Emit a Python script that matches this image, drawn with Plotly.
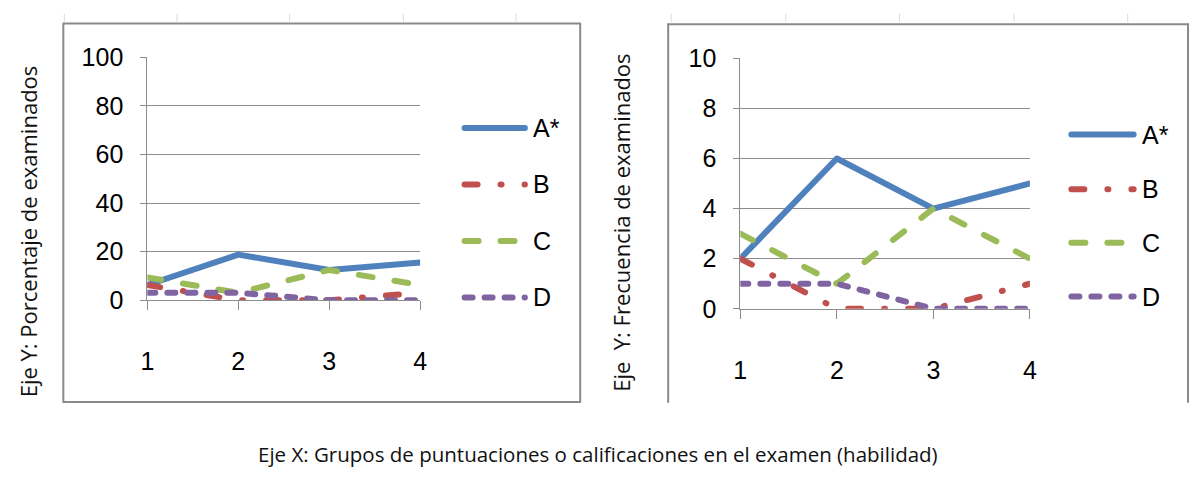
import plotly.graph_objects as go

# Score groups on the horizontal axis
groups = [1, 2, 3, 4]
group_labels = ["1", "2", "3", "4"]
options = ["A*", "B", "C", "D"]

# Left panel: percentage of examinees choosing each option
pct_a = [6.3, 18.8, 12.5, 15.6]
pct_b = [6.3, 0, 0, 3.1]
pct_c = [9.4, 3.1, 12.5, 6.3]
pct_d = [3.1, 3.1, 0, 0]

# Right panel: number of examinees choosing each option
freq_a = [2, 6, 4, 5]
freq_b = [2, 0, 0, 1]
freq_c = [3, 1, 4, 2]
freq_d = [1, 1, 0, 0]

pct_ticks = [0, 20, 40, 60, 80, 100]
freq_ticks = [0, 2, 4, 6, 8, 10]

W, H = 1196, 481


def px(xp):
    return xp / W


def py(yp):
    return 1 - yp / H


colors = ["#4F81BD", "#C0504D", "#9BBB59", "#8064A2"]
dashes = ["solid", "13px,23px,1px,23px", "14px,22px", "8px,12px"]
LW = 6
GRID = "#8c8c8c"
NARROW = "Liberation Sans Narrow, Liberation Sans, Arial, sans-serif"
TEXT = "Open Sans, sans-serif"

fig = go.Figure()

pct_series = [pct_a, pct_b, pct_c, pct_d]
freq_series = [freq_a, freq_b, freq_c, freq_d]

for name, vals, col, dsh in zip(options, pct_series, colors, dashes):
    fig.add_trace(go.Scatter(x=groups, y=vals, mode="lines", name=name,
                             line=dict(color=col, width=LW, dash=dsh),
                             showlegend=False, hoverinfo="skip",
                             xaxis="x", yaxis="y"))
for name, vals, col, dsh in zip(options, freq_series, colors, dashes):
    fig.add_trace(go.Scatter(x=groups, y=vals, mode="lines", name=name,
                             line=dict(color=col, width=LW, dash=dsh),
                             showlegend=False, hoverinfo="skip",
                             xaxis="x2", yaxis="y2"))

common_x = dict(range=[1, 4], tickvals=groups, ticktext=group_labels,
                ticks="outside", ticklen=9, tickcolor=GRID, tickwidth=1,
                showline=True, linecolor=GRID, linewidth=1, showgrid=False,
                zeroline=False, ticklabelstandoff=30,
                tickfont=dict(family=NARROW, size=25, color="#000"))
common_y = dict(showgrid=True, gridcolor=GRID, gridwidth=1,
                showline=True, linecolor=GRID, linewidth=1,
                ticks="outside", ticklen=6, tickcolor=GRID, tickwidth=1,
                zeroline=False, ticklabelstandoff=12,
                tickfont=dict(family=NARROW, size=25, color="#000"))

fig.update_layout(
    width=W, height=H,
    margin=dict(l=0, r=0, t=0, b=0),
    paper_bgcolor="white", plot_bgcolor="rgba(0,0,0,0)",
    showlegend=False,
    xaxis=dict(domain=[px(142), px(418)], anchor="y", **common_x),
    yaxis=dict(domain=[py(304), py(46)], anchor="x", range=[0, 100],
               tickvals=pct_ticks, **common_y),
    xaxis2=dict(domain=[px(742), px(1035)], anchor="y2", **common_x),
    yaxis2=dict(domain=[py(313), py(47)], anchor="x2", range=[0, 10],
                tickvals=freq_ticks, **common_y),
)

shapes = []
FRAME = "#8a8a8a"
# Left chart frame (full box)
shapes.append(dict(type="rect", xref="paper", yref="paper",
                   x0=px(57), x1=px(580), y0=py(412), y1=py(10),
                   line=dict(color=FRAME, width=2), fillcolor="rgba(0,0,0,0)"))
# Right chart frame (left, top and right edges)
for (xa, ya, xb, yb) in [(669, 412, 669, 11), (669, 11, 1195, 11), (1195, 11, 1195, 412)]:
    shapes.append(dict(type="line", xref="paper", yref="paper",
                       x0=px(xa), y0=py(ya), x1=px(xb), y1=py(yb),
                       line=dict(color=FRAME, width=2)))
# Faint cell borders above the frames
for xp in [58, 172, 286, 401, 515, 672, 788, 903, 1019, 1134]:
    shapes.append(dict(type="line", xref="paper", yref="paper",
                       x0=px(xp), y0=py(0), x1=px(xp), y1=py(8),
                       line=dict(color="#d4dbe6", width=1)))

annotations = []
# Legend keys for both panels
legend_cfg = [
    (463, 524, 530, [121, 181, 241, 301]),
    (1077, 1140, 1146, [128, 186, 243, 300]),
]
for x0, x1, xt, ys in legend_cfg:
    for name, col, dsh, yy in zip(options, colors, dashes, ys):
        shapes.append(dict(type="line", xref="paper", yref="paper",
                           x0=px(x0), x1=px(x1), y0=py(yy), y1=py(yy),
                           line=dict(color=col, width=6, dash=dsh)))
        annotations.append(dict(x=px(xt), y=py(yy), xref="paper", yref="paper",
                                text=name, showarrow=False, xanchor="left",
                                yanchor="middle",
                                font=dict(family=NARROW, size=25, color="#000")))

# Vertical axis titles
annotations.append(dict(x=px(21), y=py(231), xref="paper", yref="paper",
                        text="Eje Y: Porcentaje de examinados", textangle=-90,
                        showarrow=False, xanchor="center", yanchor="middle",
                        font=dict(family=TEXT, size=22, color="#111")))
annotations.append(dict(x=px(621), y=py(222), xref="paper", yref="paper",
                        text="Eje  Y: Frecuencia de examinados", textangle=-90,
                        showarrow=False, xanchor="center", yanchor="middle",
                        font=dict(family=TEXT, size=22, color="#111")))
# Shared caption for the horizontal axis
annotations.append(dict(x=px(598), y=py(467), xref="paper", yref="paper",
                        text="Eje X: Grupos de puntuaciones o calificaciones en el examen (habilidad)",
                        showarrow=False, xanchor="center", yanchor="middle",
                        font=dict(family=TEXT, size=20.5, color="#111")))

fig.update_layout(shapes=shapes, annotations=annotations)

style_js = (
    "var s=document.createElement('style');"
    "s.textContent='html,body{margin:0;padding:0}"
    ".js-line,.shapelayer path{stroke-linecap:round;stroke-linejoin:round}"
    ".cartesianlayer .plot,.cartesianlayer .plot *{clip-path:none!important}';"
    "document.head.appendChild(s);"
)

fig.write_html("out.html", post_script=style_js)
